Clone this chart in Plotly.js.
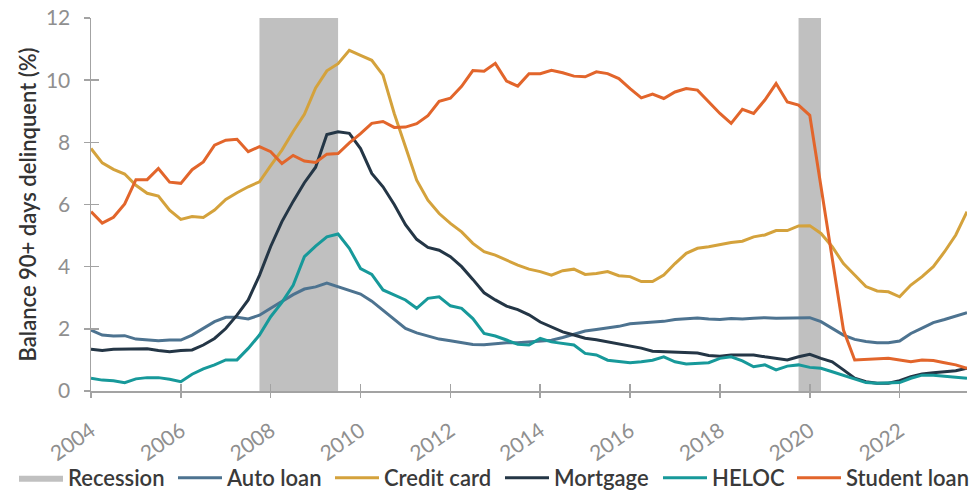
<!DOCTYPE html>
<html>
<head>
<meta charset="utf-8">
<script src="https://cdn.plot.ly/plotly-3.0.1.min.js"></script>
<style>
  html, body { margin: 0; padding: 0; background: #ffffff; }
  #chart { width: 972px; height: 491px; }
</style>
</head>
<body>
<div id="chart"></div>
<script>
// Quarterly data, 2004 Q1 .. 2023 Q3 (79 quarters)
const startYear = 2004;
const quarterCount = 79;

const autoLoan = [1.96,1.80,1.77,1.78,1.67,1.64,1.62,1.64,1.64,1.80,
  2.02,2.23,2.37,2.37,2.32,2.44,2.66,2.87,3.10,3.28,
  3.35,3.47,3.35,3.25,3.12,2.89,2.60,2.32,2.01,1.87,
  1.78,1.67,1.62,1.56,1.50,1.49,1.52,1.55,1.55,1.57,
  1.60,1.63,1.72,1.82,1.93,1.98,2.03,2.08,2.16,2.19,
  2.22,2.24,2.30,2.32,2.35,2.32,2.30,2.33,2.32,2.34,
  2.36,2.34,2.34,2.36,2.36,2.23,2.02,1.80,1.66,1.59,
  1.55,1.55,1.61,1.85,2.02,2.20,2.30,2.41,2.52];

const creditCard = [7.80,7.34,7.13,6.98,6.62,6.36,6.27,5.82,5.52,5.61,
  5.58,5.82,6.16,6.38,6.57,6.73,7.25,7.75,8.35,8.90,
  9.75,10.30,10.53,10.96,10.80,10.64,10.16,8.93,7.86,6.78,
  6.14,5.71,5.39,5.12,4.75,4.48,4.37,4.21,4.05,3.92,
  3.84,3.73,3.87,3.92,3.75,3.78,3.84,3.71,3.68,3.52,
  3.52,3.73,4.10,4.43,4.59,4.64,4.72,4.78,4.82,4.96,
  5.02,5.16,5.16,5.31,5.32,5.07,4.64,4.10,3.73,3.36,
  3.22,3.19,3.03,3.41,3.68,4.00,4.48,5.02,5.77];

const mortgage = [1.34,1.30,1.34,1.35,1.36,1.36,1.30,1.26,1.30,1.32,
  1.48,1.69,2.01,2.44,2.93,3.72,4.65,5.45,6.10,6.70,
  7.20,8.25,8.34,8.29,7.80,7.00,6.57,6.00,5.35,4.88,
  4.62,4.53,4.32,4.00,3.59,3.16,2.93,2.73,2.62,2.45,
  2.22,2.05,1.90,1.80,1.70,1.65,1.58,1.52,1.45,1.38,
  1.28,1.27,1.25,1.24,1.22,1.14,1.12,1.16,1.16,1.16,
  1.10,1.05,1.00,1.10,1.18,1.05,0.94,0.68,0.41,0.30,
  0.25,0.25,0.33,0.46,0.55,0.59,0.62,0.65,0.73];

const heloc = [0.41,0.35,0.33,0.27,0.39,0.43,0.43,0.38,0.30,0.54,
  0.71,0.84,1.00,1.00,1.37,1.80,2.39,2.85,3.40,4.32,
  4.66,4.96,5.05,4.59,3.94,3.75,3.25,3.09,2.93,2.66,
  2.98,3.03,2.74,2.66,2.33,1.85,1.77,1.64,1.50,1.48,
  1.69,1.58,1.53,1.48,1.21,1.16,0.99,0.94,0.91,0.94,
  0.99,1.10,0.94,0.87,0.89,0.91,1.05,1.10,0.97,0.78,
  0.84,0.68,0.80,0.84,0.76,0.73,0.62,0.51,0.38,0.27,
  0.25,0.25,0.27,0.41,0.51,0.51,0.48,0.44,0.41];

const studentLoan = [5.77,5.40,5.59,6.02,6.80,6.80,7.16,6.72,6.68,7.12,
  7.37,7.91,8.07,8.10,7.70,7.86,7.70,7.32,7.58,7.40,
  7.35,7.62,7.64,7.98,8.28,8.61,8.67,8.48,8.49,8.60,
  8.86,9.32,9.42,9.80,10.31,10.29,10.54,9.97,9.81,10.21,
  10.21,10.32,10.24,10.13,10.11,10.27,10.21,10.05,9.73,9.43,
  9.55,9.41,9.62,9.73,9.68,9.30,8.93,8.61,9.06,8.93,
  9.36,9.89,9.30,9.20,8.87,6.57,4.27,1.96,1.00,1.02,
  1.05,1.05,1.00,0.94,1.00,0.98,0.91,0.84,0.73];

const recessionStart = [2007.75, 2019.75];
const recessionEnd   = [2009.5, 2020.25];

const seriesNames  = ['Auto loan', 'Credit card', 'Mortgage', 'HELOC', 'Student loan'];
const seriesColors = ['#4d7390', '#d4a23c', '#243646', '#17999a', '#e2652b'];
const seriesValues = [autoLoan, creditCard, mortgage, heloc, studentLoan];

const xTickVals = [2004, 2006, 2008, 2010, 2012, 2014, 2016, 2018, 2020, 2022];
const yTickVals = [0, 2, 4, 6, 8, 10, 12];
const xRange = [2004, 2023.5];
const yRange = [0, 12];

// legend entry text widths (px) used for horizontal spacing of the legend
const legendEntryWidths = [100, 98, 111, 99, 75, 125];

const quarterX = [];
for (let i = 0; i < quarterCount; i++) quarterX.push(startYear + i / 4);

// recession bands as filled polygons
const recX = [], recY = [];
for (let i = 0; i < recessionStart.length; i++) {
  recX.push(recessionStart[i], recessionStart[i], recessionEnd[i], recessionEnd[i], recessionStart[i], null);
  recY.push(yRange[0], yRange[1], yRange[1], yRange[0], yRange[0], null);
}

const traces = [{
  type: 'scatter', mode: 'lines', name: 'Recession',
  x: recX, y: recY, fill: 'toself', fillcolor: '#c0c0c0',
  line: { color: '#c0c0c0', width: 0 }, hoverinfo: 'skip',
  legendwidth: legendEntryWidths[0],
  xaxis: 'x', yaxis: 'y'
}];
seriesNames.forEach((n, i) => {
  traces.push({
    type: 'scatter', mode: 'lines', name: n,
    x: quarterX, y: seriesValues[i],
    line: { color: seriesColors[i], width: 3 },
    legendwidth: legendEntryWidths[i + 1],
    xaxis: 'x2', yaxis: 'y2'
  });
});

const axisGray = '#a3a3a3';
const tickFont = { family: 'Lato, sans-serif', size: 21, color: '#8f8f8f' };

const layout = {
  width: 972, height: 491,
  margin: { l: 91, r: 5, t: 18, b: 100, autoexpand: false },
  paper_bgcolor: '#ffffff', plot_bgcolor: '#ffffff',
  font: { family: 'Lato, sans-serif', color: '#333333' },
  showlegend: true,
  legend: {
    orientation: 'h', xref: 'paper', yref: 'paper',
    x: -0.0879, y: -0.233, xanchor: 'left', yanchor: 'middle',
    itemwidth: 44,
    font: { family: 'Lato, sans-serif', size: 22, color: '#3a3a3a', weight: 600 },
    bgcolor: 'rgba(0,0,0,0)', traceorder: 'normal'
  },
  xaxis: {
    range: xRange, tickvals: xTickVals, ticktext: xTickVals.map(String),
    tickangle: -35, ticks: 'outside', ticklen: 5, tickwidth: 1.5, tickcolor: axisGray,
    showline: true, linecolor: axisGray, linewidth: 1.5, ticklabelstandoff: 13,
    showgrid: false, zeroline: false, tickfont: tickFont, fixedrange: true
  },
  yaxis: {
    range: yRange, tickvals: yTickVals, ticks: 'outside', ticklen: 6, tickwidth: 1.5,
    tickcolor: axisGray, showline: true, linecolor: axisGray, linewidth: 1.5,
    showgrid: false, zeroline: false, tickfont: tickFont, ticklabelstandoff: 9,
    title: { text: 'Balance 90+ days delinquent (%)', standoff: 3,
             font: { family: 'Lato, sans-serif', size: 22, color: '#333333', weight: 600 } },
    fixedrange: true
  },
  xaxis2: {
    overlaying: 'x', anchor: 'y2', range: xRange, tickvals: xTickVals,
    ticks: 'inside', ticklen: 7, tickwidth: 1.5, tickcolor: axisGray,
    showticklabels: false, showline: false, showgrid: false, zeroline: false, fixedrange: true
  },
  yaxis2: {
    overlaying: 'y', anchor: 'x2', range: yRange, tickvals: yTickVals,
    ticks: 'inside', ticklen: 8, tickwidth: 1.5, tickcolor: axisGray,
    showticklabels: false, showline: false, showgrid: false, zeroline: false, fixedrange: true
  }
};

Plotly.newPlot('chart', traces, layout, { displayModeBar: false, staticPlot: true });
</script>
</body>
</html>
